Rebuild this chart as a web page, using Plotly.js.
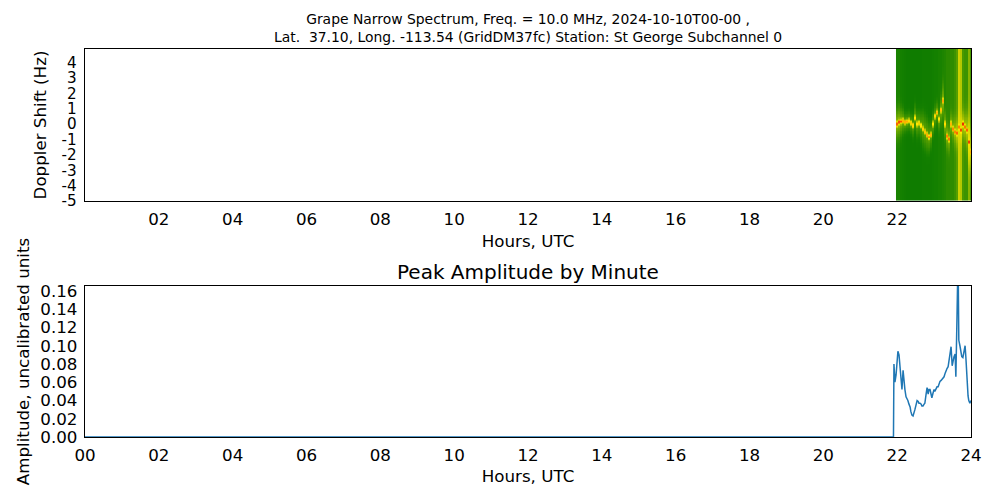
<!DOCTYPE html>
<html>
<head>
<meta charset="utf-8">
<script src="https://cdn.plot.ly/plotly-3.0.1.min.js"></script>
<style>html,body{margin:0;padding:0;background:#fff}#chart{width:1000px;height:500px}</style>
</head>
<body>
<div id="chart"></div>
<script>
// ---- Spectrogram columns (hours UTC) ----
const specTimes = [21.995,22.049,22.104,22.158,22.212,22.266,22.320,22.375,22.429,22.483,
  22.537,22.591,22.646,22.700,22.754,22.808,22.862,22.916,22.971,23.025,
  23.079,23.133,23.187,23.242,23.296,23.350,23.404,23.458,23.513,23.567,
  23.621,23.675,23.729,23.783,23.838,23.892,23.946,24.000];
// Doppler shift of the strongest signal per column (Hz)
const traceHz = [0.0,0.1,0.15,0.2,0.1,0.15,0.2,0.05,-0.1,0.4,
  0.0,0.05,-0.1,-0.3,-0.5,-0.7,-0.85,-0.7,0.0,0.5,
  0.75,0.3,0.9,1.5,0.0,-0.8,-1.0,0.0,-0.3,-0.5,
  -0.6,-0.2,-0.4,0.0,-0.2,-0.4,-1.2,-1.8];
// Strength of the trace (0 = background, 1 = red)
const traceLevel = [0.62,0.66,0.6,0.55,0.62,0.55,0.55,0.5,0.55,0.5,
  0.5,0.5,0.5,0.52,0.55,0.6,0.66,0.6,0.48,0.52,
  0.52,0.45,0.52,0.55,0.45,0.6,0.62,0.52,0.6,0.55,
  0.52,0.35,0.45,0.62,0.55,0.55,0.42,0.4];
// Overall column brightness (background noise level)
const bgLevel = [0.13,0.13,0.12,0.11,0.10,0.09,0.09,0.09,0.09,0.09,
  0.09,0.09,0.09,0.10,0.10,0.10,0.10,0.10,0.11,0.12,
  0.12,0.13,0.13,0.14,0.15,0.17,0.17,0.18,0.18,0.21,
  0.27,0.48,0.44,0.24,0.21,0.21,0.36,0.24];
// Halo around the trace: level and width (Hz)
const haloLevel = [0.24,0.24,0.22,0.2,0.16,0.16,0.16,0.16,0.16,0.18,
  0.18,0.16,0.16,0.18,0.18,0.18,0.18,0.16,0.16,0.16,
  0.16,0.16,0.18,0.2,0.18,0.18,0.18,0.16,0.16,0.18,
  0.18,0.08,0.12,0.2,0.2,0.22,0.24,0.22];
const haloHz = [0.9,0.9,0.8,0.7,0.6,0.6,0.6,0.6,0.7,0.8,
  0.8,0.8,0.9,1.0,1.0,1.0,0.9,0.8,0.7,0.6,
  0.6,0.6,0.8,1.0,0.8,0.8,0.8,0.7,0.8,0.9,
  0.9,0.8,0.8,0.9,1.0,1.2,1.4,1.4];

// ---- Peak amplitude by minute ----
const ampHours = [0.0,21.90,21.913,21.94,21.97,21.99,22.02,22.05,22.08,22.10,22.13,22.16,22.18,22.21,22.24,22.27,22.29,
  22.32,22.35,22.37,22.40,22.43,22.46,22.48,22.51,22.54,22.57,22.59,22.62,22.65,22.67,22.70,22.73,
  22.75,22.78,22.81,22.84,22.86,22.89,22.92,22.94,22.97,23.00,23.02,23.05,23.08,23.11,23.13,23.16,
  23.19,23.21,23.24,23.27,23.30,23.32,23.35,23.38,23.40,23.43,23.46,23.49,23.51,23.54,23.57,23.59,
  23.62,23.635,23.65,23.66,23.67,23.70,23.73,23.75,23.78,23.81,23.84,23.86,23.89,23.92,23.94,23.97,24.00];
const ampValues = [0.0,0.0,0.080,0.060,0.068,0.080,0.094,0.090,0.078,0.066,0.052,0.073,0.062,0.052,0.044,0.042,0.040,
  0.036,0.033,0.028,0.024,0.023,0.026,0.030,0.035,0.040,0.039,0.037,0.037,0.036,0.034,0.034,0.036,
  0.037,0.046,0.054,0.047,0.052,0.052,0.045,0.043,0.048,0.052,0.050,0.052,0.055,0.055,0.058,0.061,
  0.062,0.063,0.064,0.066,0.070,0.073,0.075,0.077,0.082,0.090,0.099,0.078,0.083,0.088,0.091,0.066,
  0.130,0.200,0.200,0.150,0.106,0.100,0.088,0.088,0.087,0.093,0.100,0.088,0.059,0.045,0.040,0.037,0.040];

const hourTicks = [0,2,4,6,8,10,12,14,16,18,20,22,24];
const hourLabels = ['00','02','04','06','08','10','12','14','16','18','20','22','24'];
const dopplerTicks = [-5,-4,-3,-2,-1,0,1,2,3,4];
const ampTicks = [0,0.02,0.04,0.06,0.08,0.10,0.12,0.14,0.16];
const ampLabels = ['0.00','0.02','0.04','0.06','0.08','0.10','0.12','0.14','0.16'];

// frequency bin centres of the spectrogram grid
const freqBins = [];
for (let i = 0; i < 99; i++) freqBins.push(-4.95 + i * 0.1);

const z = freqBins.map(f => specTimes.map((t, c) => {
  const d = f - traceHz[c];
  const a = d / haloHz[c];
  const b = d / 0.14;
  const v = bgLevel[c] + haloLevel[c] * Math.exp(-(a * a)) + traceLevel[c] * Math.exp(-(b * b));
  return Math.min(1, v);
}));

const font = {family: 'DejaVu Sans, sans-serif', size: 16.7, color: '#000'};
const smallTickFont = {family: 'DejaVu Sans, sans-serif', size: 15.2, color: '#000'};

const traces = [
  {type: 'heatmap', x: specTimes, y: freqBins, z: z, xaxis: 'x', yaxis: 'y',
   zmin: 0, zmax: 1, showscale: false, hoverinfo: 'skip',
   colorscale: [[0,'rgb(0,110,0)'],[0.12,'rgb(20,128,0)'],[0.3,'rgb(100,165,0)'],
                [0.5,'rgb(215,215,0)'],[0.7,'rgb(255,235,0)'],[0.85,'rgb(255,150,0)'],[1,'rgb(235,40,0)']]},
  {type: 'scatter', mode: 'lines', x: ampHours, y: ampValues, xaxis: 'x2', yaxis: 'y2',
   line: {color: '#1f77b4', width: 1.5}, hoverinfo: 'skip'}
];

const axisCommon = {showline: true, mirror: true, linecolor: '#000', linewidth: 1.2,
  showgrid: false, zeroline: false, ticks: '', tickfont: font, ticklabelstandoff: 3};

const layout = {
  width: 1000, height: 500,
  margin: {l: 85, r: 29, t: 49, b: 63},
  paper_bgcolor: '#fff', plot_bgcolor: '#fff',
  showlegend: false,
  font: font,
  xaxis: Object.assign({}, axisCommon, {domain: [0, 1], anchor: 'y', range: [0, 24],
    tickmode: 'array', tickvals: hourTicks.slice(1, 12), ticktext: hourLabels.slice(1, 12),
    title: {text: 'Hours, UTC', font: font, standoff: 7}}),
  yaxis: Object.assign({}, axisCommon, {domain: [0.6082, 1], anchor: 'x', range: [-5, 4.87],
    tickmode: 'array', tickvals: dopplerTicks, ticktext: dopplerTicks.map(String),
    tickfont: smallTickFont, ticklabelstandoff: 4,
    title: {text: 'Doppler Shift (Hz)', font: font, standoff: 10}}),
  xaxis2: Object.assign({}, axisCommon, {domain: [0, 1], anchor: 'y2', range: [0, 24],
    tickmode: 'array', tickvals: hourTicks, ticktext: hourLabels,
    title: {text: 'Hours, UTC', font: font, standoff: 6}}),
  yaxis2: Object.assign({}, axisCommon, {domain: [0, 0.3892], anchor: 'x2', range: [0, 0.1655],
    tickmode: 'array', tickvals: ampTicks, ticktext: ampLabels,
    title: {text: 'Amplitude, uncalibrated units', font: font, standoff: 6}}),
  annotations: [
    {text: 'Grape Narrow Spectrum, Freq. = 10.0 MHz, 2024-10-10T00-00 ,<br>Lat.  37.10, Long. -113.54 (GridDM37fc) Station: St George Subchannel 0',
     xref: 'paper', yref: 'paper', x: 0.5, y: 1, yshift: 2, xanchor: 'center', yanchor: 'bottom',
     showarrow: false, font: {family: 'DejaVu Sans, sans-serif', size: 13.9, color: '#000'}},
    {text: 'Peak Amplitude by Minute', xref: 'paper', yref: 'paper', x: 0.5, y: 0.3892, yshift: 0,
     xanchor: 'center', yanchor: 'bottom', showarrow: false,
     font: {family: 'DejaVu Sans, sans-serif', size: 20, color: '#000'}}
  ]
};

Plotly.newPlot('chart', traces, layout, {staticPlot: true, displayModeBar: false});
</script>
</body>
</html>
